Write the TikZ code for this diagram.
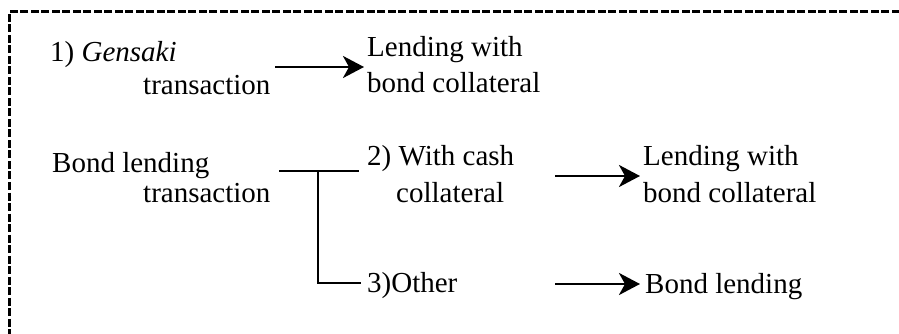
\documentclass[tikz,border=0pt]{standalone}
\usepackage{fontspec}
\setmainfont{Liberation Serif}
\usetikzlibrary{arrows.meta}
\begin{document}
\begin{tikzpicture}[x=1pt,y=-1pt,
  txt/.style={inner sep=0pt, anchor=base west, font=\fontsize{29}{34}\selectfont},
  arr/.style={line width=2.6pt, -{Stealth[length=21pt,width=22pt,inset=6pt]}},
  brk/.style={line width=1.7pt}]
\useasboundingbox (0,0) rectangle (899,334);
\clip (0,0) rectangle (899,334);
\draw[line width=3pt, dash pattern=on 8pt off 2.5pt] (910,12) -- (9,12) -- (9,345);
% row 1
\node[txt] (g1) at (50,62) {1) \textit{Gensaki}};
\node[txt] (g2) at (143,95) {transaction};
\node[txt] (l1a) at (367,57) {Lending with};
\node[txt] (l1b) at (367,93) {bond collateral};
\coordinate (a1s) at (275,67);
\coordinate (a1e) at (364,67);
\draw[arr] (a1s) -- (a1e);
% row 2
\node[txt] (b1) at (52,172) {Bond lending};
\node[txt] (b2) at (143,202) {transaction};
\node[txt] (c1) at (367,165) {2) With cash};
\node[txt] (c2) at (396,202) {collateral};
\node[txt] (o1) at (367,292) {3)Other};
\node[txt] (l2a) at (643,165) {Lending with};
\node[txt] (l2b) at (643,202) {bond collateral};
\node[txt] (bl) at (645,293) {Bond lending};
\coordinate (j0) at (279,171);
\coordinate (j1) at (318,171);
\coordinate (j2) at (359,171);
\coordinate (j3) at (318,283);
\coordinate (j4) at (361,283);
\draw[brk] (j0) -- (j2);
\draw[brk] (j1) -- (j3) -- (j4);
\coordinate (a2s) at (555,176);
\coordinate (a2e) at (640,176);
\draw[arr] (a2s) -- (a2e);
\coordinate (a3s) at (555,284);
\coordinate (a3e) at (640,284);
\draw[arr] (a3s) -- (a3e);
\end{tikzpicture}
\end{document}
